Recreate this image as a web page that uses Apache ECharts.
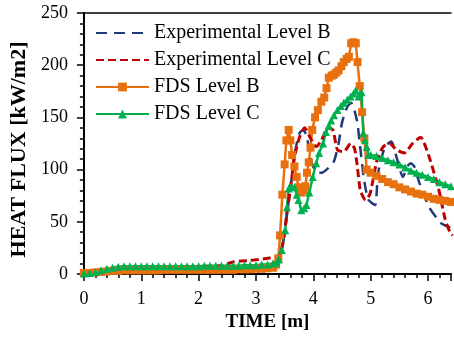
<!DOCTYPE html>
<html>
<head>
<meta charset="utf-8">
<script src="https://cdn.jsdelivr.net/npm/echarts@6/dist/echarts.min.js"></script>
<style>
  html, body { margin: 0; padding: 0; background: #fff; }
  #chart { width: 454px; height: 339px; }
</style>
</head>
<body>
<div id="chart"></div>
<script>
// Heat flux histories: experimental measurements vs FDS predictions (time in minutes)
const expBTime = [0, 0.5, 1.0, 1.5, 2.0, 2.5, 3.0, 3.3, 3.4, 3.5, 3.57, 3.62, 3.67, 3.71, 3.76, 3.82, 3.88, 3.93, 3.98, 4.05, 4.14, 4.25, 4.36, 4.44, 4.5, 4.59, 4.66, 4.76, 4.82, 4.88, 4.95, 5.02, 5.08, 5.13, 5.25, 5.36, 5.45, 5.56, 5.65, 5.7, 5.76, 5.85, 6.02, 6.22, 6.36, 6.43];
const expBFlux = [0, 3, 5, 5.5, 6, 6.5, 7, 9, 14, 40, 70, 90, 112, 125, 135, 138, 133, 118, 105, 98, 97, 101, 108, 125, 145, 160, 164, 147, 120, 92, 72, 68, 66, 97, 122, 127, 112, 93, 104, 106, 103, 87, 64, 49, 45, 44];

const expCTime = [0, 0.5, 1.0, 1.5, 2.0, 2.4, 2.6, 2.9, 3.2, 3.4, 3.47, 3.54, 3.62, 3.67, 3.76, 3.85, 3.97, 4.05, 4.14, 4.25, 4.34, 4.42, 4.53, 4.65, 4.72, 4.76, 4.82, 4.91, 4.99, 5.11, 5.22, 5.33, 5.45, 5.59, 5.73, 5.87, 6.02, 6.19, 6.3, 6.39, 6.43];
const expCFlux = [0, 4, 5.5, 6, 6.5, 8, 11.5, 13, 15, 17, 30, 58, 90, 112, 131, 140, 128, 122, 128, 140, 138, 119, 117, 125, 120, 106, 80, 71, 77, 109, 122, 125, 119, 116, 125, 131, 112, 80, 52, 39, 37];

const fdsBTime = [0, 0.1, 0.2, 0.3, 0.4, 0.5, 0.6, 0.7, 0.8, 0.9, 1.0, 1.1, 1.2, 1.3, 1.4, 1.5, 1.6, 1.7, 1.8, 1.9, 2.0, 2.1, 2.2, 2.3, 2.4, 2.5, 2.6, 2.7, 2.8, 2.9, 3.0, 3.1, 3.2, 3.3,
  3.35, 3.39, 3.42, 3.46, 3.5, 3.53, 3.57, 3.6, 3.63, 3.67, 3.71, 3.74, 3.79, 3.83, 3.86, 3.89, 3.92, 3.95, 3.98, 4.03, 4.08, 4.14, 4.19, 4.23, 4.27, 4.32, 4.36, 4.4, 4.44, 4.49, 4.53, 4.58, 4.62, 4.66, 4.7, 4.74, 4.77, 4.81, 4.85, 4.89, 4.93,
  5.0, 5.1, 5.2, 5.3, 5.4, 5.5, 5.6, 5.7, 5.8, 5.9, 6.0, 6.1, 6.2, 6.3, 6.4];
const fdsBFlux = [1, 1, 1.5, 2, 2.5, 3, 3, 3.5, 3.5, 3.5, 3.5, 3.5, 3.5, 3.5, 4, 4, 4, 4, 4, 4, 4, 4, 4, 4, 4, 4, 4, 4.5, 4.5, 4.5, 5, 5, 5.5, 6,
  9, 15, 37, 76, 105, 128, 138, 128, 114, 103, 93, 83, 78, 80, 84, 97, 107, 121, 138, 150, 157, 165, 169, 178, 188, 190, 191, 193, 195, 199, 203, 206, 208, 221, 222, 221, 203, 180, 155, 130, 100,
  97, 94, 91, 88, 86, 83, 81, 79, 77, 76, 74, 72, 71, 70, 69];

const fdsCTime = [0, 0.1, 0.2, 0.3, 0.4, 0.5, 0.6, 0.7, 0.8, 0.9, 1.0, 1.1, 1.2, 1.3, 1.4, 1.5, 1.6, 1.7, 1.8, 1.9, 2.0, 2.1, 2.2, 2.3, 2.4, 2.5, 2.6, 2.7, 2.8, 2.9, 3.0, 3.1, 3.2, 3.3,
  3.36, 3.4, 3.45, 3.51, 3.54, 3.57, 3.62, 3.67, 3.71, 3.74, 3.79, 3.84, 3.88, 3.93, 3.99, 4.05, 4.1, 4.17, 4.22, 4.27, 4.31, 4.36, 4.42, 4.48, 4.53, 4.59, 4.65, 4.7, 4.74, 4.79, 4.84, 4.87, 4.9, 4.93, 4.96,
  5.0, 5.1, 5.2, 5.3, 5.4, 5.5, 5.6, 5.7, 5.8, 5.9, 6.0, 6.1, 6.2, 6.3, 6.4];
const fdsCFlux = [0.5, 1, 2, 3.5, 5, 6, 7, 7.5, 7.5, 7.5, 7.5, 7.5, 7.5, 7.5, 7.5, 7.5, 7.5, 7.5, 7.5, 7.5, 7.5, 8, 8, 8, 8, 8, 8, 8, 8.5, 8.5, 8.5, 9, 9, 10,
  11, 14, 23, 42, 64, 82, 84, 83, 76, 71, 61, 63, 66, 78, 93, 106, 116, 125, 136, 142, 147, 152, 157, 161, 164, 167, 170, 173, 176, 170, 174, 135, 128, 122, 114,
  114, 113, 111, 109, 107, 105, 102, 99, 97, 95, 93, 91, 88, 86, 84];

const xTicks = [0, 1, 2, 3, 4, 5, 6];
const yTicks = [0, 50, 100, 150, 200, 250];

const FONT = "'Liberation Serif', 'Times New Roman', serif";
const pairs = (t, v) => t.map((x, i) => [x, v[i]]);

const chart = echarts.init(document.getElementById('chart'), null, { renderer: 'canvas' });

const option = {
  animation: false,
  backgroundColor: '#ffffff',
  grid: { left: 78, top: 13, right: 1.6, bottom: 65, containLabel: false },
  legend: {
    data: [
      // measured curves: dashed line only, no marker in the key
      { name: 'Experimental Level B', itemStyle: { opacity: 0 } },
      { name: 'Experimental Level C', itemStyle: { opacity: 0 } },
      { name: 'FDS Level B' },
      { name: 'FDS Level C' }
    ],
    orient: 'vertical',
    left: 90,
    top: 18,
    itemWidth: 53,
    itemHeight: 11,
    itemGap: 7,
    textStyle: { fontFamily: FONT, fontSize: 20, color: '#000' }
  },
  xAxis: [
    {
      type: 'value',
      min: 0, max: 6.4, interval: 1,
      name: 'TIME [m]',
      nameLocation: 'middle',
      nameGap: 34,
      nameTextStyle: { fontFamily: FONT, fontSize: 19, fontWeight: 'bold', color: '#000' },
      axisLine: { onZero: false, lineStyle: { color: '#000', width: 2 } },
      axisTick: { show: true, inside: false, length: 7, lineStyle: { color: '#000', width: 1.5 } },
      axisLabel: {
        fontFamily: FONT, fontSize: 18, color: '#000', margin: 16,
        formatter: v => (xTicks.includes(Math.round(v * 1000) / 1000) ? String(v) : '')
      },
      splitLine: { show: false }
    },
    {
      // minor tick marks every 0.2 min along the bottom
      type: 'value', position: 'bottom',
      min: 0, max: 6.4, interval: 0.2,
      axisLine: { show: false },
      axisTick: { show: true, inside: false, length: 4, lineStyle: { color: '#000', width: 1.5 } },
      axisLabel: { show: false },
      splitLine: { show: false }
    },
    {
      // frame line along the top of the plot
      type: 'value', position: 'top',
      min: 0, max: 6.4,
      axisLine: { show: true, lineStyle: { color: '#000', width: 1.5 } },
      axisTick: { show: false },
      axisLabel: { show: false },
      splitLine: { show: false }
    }
  ],
  yAxis: {
    type: 'value',
    min: 0, max: 250, interval: 50,
    name: 'HEAT FLUX [kW/m2]',
    nameLocation: 'middle',
    nameGap: 42,
    nameRotate: 90,
    nameTextStyle: { fontFamily: FONT, fontSize: 22, fontWeight: 'bold', color: '#000', padding: [0, 12, 0, 0] },
    axisLine: { show: true, lineStyle: { color: '#000', width: 2 } },
    axisTick: { show: true, inside: false, length: 7, lineStyle: { color: '#000', width: 1.5 } },
    minorTick: { show: true, splitNumber: 5, length: 4, lineStyle: { color: '#000', width: 1.5 } },
    axisLabel: {
      fontFamily: FONT, fontSize: 18, color: '#000', margin: 16,
      formatter: v => (yTicks.includes(v) ? String(v) : '')
    },
    splitLine: { show: false }
  },
  series: [
    {
      name: 'FDS Level B', type: 'line', xAxisIndex: 0,
      data: pairs(fdsBTime, fdsBFlux),
      symbol: 'rect', symbolSize: 8, showAllSymbol: true,
      lineStyle: { color: '#E8700E', width: 2.5 },
      itemStyle: { color: '#E8700E' }
    },
    {
      name: 'FDS Level C', type: 'line', xAxisIndex: 0,
      data: pairs(fdsCTime, fdsCFlux),
      symbol: 'triangle', symbolSize: 8, showAllSymbol: true,
      lineStyle: { color: '#00B050', width: 2.5 },
      itemStyle: { color: '#00B050' }
    },
    {
      name: 'Experimental Level B', type: 'line', xAxisIndex: 0,
      data: pairs(expBTime, expBFlux),
      symbol: 'none', smooth: 0.2,
      lineStyle: { color: '#1F3A78', width: 2.5, type: [11, 7] },
      itemStyle: { color: '#1F3A78' }
    },
    {
      name: 'Experimental Level C', type: 'line', xAxisIndex: 0,
      data: pairs(expCTime, expCFlux),
      symbol: 'none', smooth: 0.2,
      lineStyle: { color: '#C00000', width: 3, type: [8, 4] },
      itemStyle: { color: '#C00000' }
    }
  ]
};

chart.setOption(option);
</script>
</body>
</html>
